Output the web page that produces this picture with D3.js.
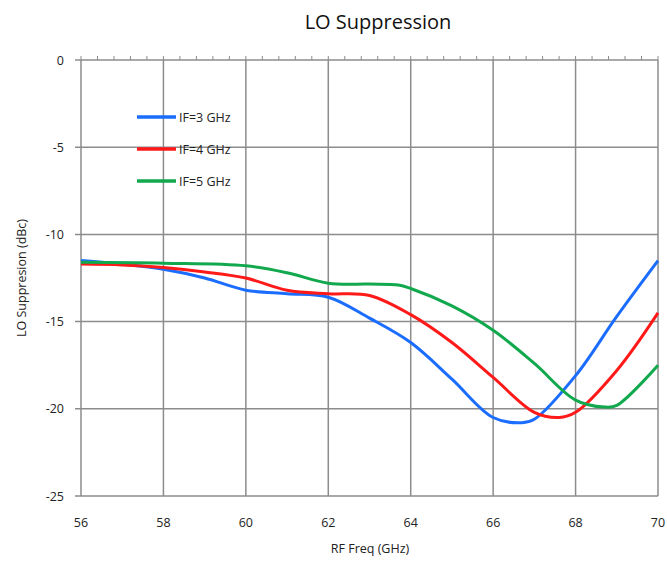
<!DOCTYPE html>
<html lang="en">
<head>
  <meta charset="utf-8" />
  <title>LO Suppression</title>
  <style>
    body {
      margin: 0;
      background: #ffffff;
    }
    svg {
      display: block;
      font-family: 'Open Sans', 'DejaVu Sans', sans-serif;
    }
    .grid line {
      stroke: #8c8c8c;
      stroke-width: 1.5px;
    }
    .series {
      fill: none;
      stroke-width: 3px;
    }
  </style>
</head>
<body>
<div id="chart"></div>

<script src="https://d3js.org/d3.v7.min.js"></script>
<script>
// ---------------------------------------------
// Data
// ---------------------------------------------
const seriesNames = ["IF=3 GHz", "IF=4 GHz", "IF=5 GHz"];
const seriesColors = ["#1a6dff", "#ff1a1a", "#12a84e"];

const freqIF3 = [56, 57, 58, 59, 60, 61, 62, 63, 64, 65, 66, 66.7, 67, 68, 69, 70];
const valsIF3 = [-11.5, -11.7, -12.0, -12.5, -13.2, -13.4, -13.6, -14.8, -16.2, -18.3, -20.5, -20.8, -20.6, -18.1, -14.7, -11.5];

const freqIF4 = [56, 57, 58, 59, 60, 61, 62, 63, 64, 65, 66, 67, 67.6, 68, 69, 70];
const valsIF4 = [-11.7, -11.75, -11.9, -12.15, -12.5, -13.2, -13.4, -13.5, -14.6, -16.2, -18.2, -20.2, -20.5, -20.2, -17.8, -14.5];

const freqIF5 = [56, 58, 60, 61, 62, 63, 63.7, 64, 65, 66, 67, 68, 68.7, 69, 70];
const valsIF5 = [-11.6, -11.65, -11.8, -12.2, -12.8, -12.85, -12.9, -13.1, -14.1, -15.5, -17.4, -19.5, -19.9, -19.8, -17.5];

const xTicks = [56, 58, 60, 62, 64, 66, 68, 70];
const yTicks = [0, -5, -10, -15, -20, -25];

const series = [
  { name: seriesNames[0], color: seriesColors[0], x: freqIF3, y: valsIF3 },
  { name: seriesNames[1], color: seriesColors[1], x: freqIF4, y: valsIF4 },
  { name: seriesNames[2], color: seriesColors[2], x: freqIF5, y: valsIF5 }
];

// ---------------------------------------------
// Layout
// ---------------------------------------------
const W = 667, H = 561;
const plot = { left: 81, right: 658, top: 60, bottom: 496 };

const svg = d3.select("#chart").append("svg")
    .attr("width", W)
    .attr("height", H);

const x = d3.scaleLinear().domain([56, 70]).range([plot.left, plot.right]);
const y = d3.scaleLinear().domain([-25, 0]).range([plot.bottom, plot.top]);

// Gridlines
const grid = svg.append("g").attr("class", "grid");
grid.selectAll("line.v")
  .data(xTicks)
  .join("line")
    .attr("class", "v")
    .attr("x1", d => x(d)).attr("x2", d => x(d))
    .attr("y1", plot.top).attr("y2", plot.bottom);

grid.selectAll("line.h")
  .data(yTicks)
  .join("line")
    .attr("class", "h")
    .attr("x1", plot.left - 6).attr("x2", plot.right)
    .attr("y1", d => y(d)).attr("y2", d => y(d));

// minor ticks along the top (x axis sits at y = 0)
const minorTicks = d3.range(56, 70.001, 0.4);
grid.selectAll("line.minor")
  .data(minorTicks)
  .join("line")
    .attr("class", "minor")
    .attr("x1", d => x(d)).attr("x2", d => x(d))
    .attr("y1", plot.top - 4).attr("y2", plot.top)
    .style("stroke-width", "1px");

// Axis tick labels
svg.append("g")
  .selectAll("text")
  .data(xTicks)
  .join("text")
    .attr("x", d => x(d))
    .attr("y", 527)
    .attr("text-anchor", "middle")
    .attr("font-size", 12.5)
    .attr("fill", "#222")
    .text(d => d);

svg.append("g")
  .selectAll("text")
  .data(yTicks)
  .join("text")
    .attr("x", 64)
    .attr("y", d => y(d) + 4.5)
    .attr("text-anchor", "end")
    .attr("font-size", 12.5)
    .attr("fill", "#222")
    .text(d => d);

// Axis titles
svg.append("text")
  .attr("x", 370)
  .attr("y", 553)
  .attr("text-anchor", "middle")
  .attr("font-size", 12.5)
  .attr("fill", "#222")
  .text("RF Freq (GHz)");

svg.append("text")
  .attr("transform", "translate(26,278) rotate(-90)")
  .attr("text-anchor", "middle")
  .attr("font-size", 12.5)
  .attr("fill", "#222")
  .text("LO Suppresion (dBc)");

// Chart title
svg.append("text")
  .attr("x", 378)
  .attr("y", 29)
  .attr("text-anchor", "middle")
  .attr("font-size", 20)
  .attr("fill", "#111")
  .text("LO Suppression");

// Series lines
const line = d3.line()
  .x(d => x(d[0]))
  .y(d => y(d[1]))
  .curve(d3.curveCatmullRom.alpha(0.5));

svg.append("g")
  .selectAll("path")
  .data(series)
  .join("path")
    .attr("class", "series")
    .attr("stroke", d => d.color)
    .attr("d", d => line(d.x.map((f, k) => [f, d.y[k]])));

// Legend
const legend = svg.append("g")
  .selectAll("g")
  .data(series)
  .join("g")
    .attr("transform", (d, k) => `translate(137,${117 + k * 32})`);

legend.append("line")
  .attr("x1", 0).attr("x2", 39)
  .attr("stroke", d => d.color)
  .attr("stroke-width", 3.5);

legend.append("text")
  .attr("x", 42)
  .attr("y", 4.5)
  .attr("font-size", 12.5)
  .attr("fill", "#222")
  .text(d => d.name);
</script>
</body>
</html>
